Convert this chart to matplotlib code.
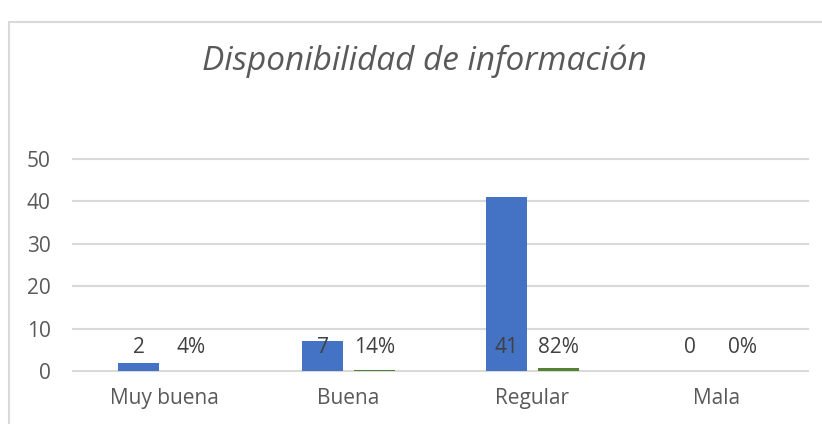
import matplotlib.pyplot as plt
import matplotlib.patches as mpatches
import numpy as np

# datos del grafico
categorias = ["Muy buena", "Buena", "Regular", "Mala"]
frecuencia = [2, 7, 41, 0]
porcentaje = [0.04, 0.14, 0.82, 0.0]
etiquetas_pct = ["4%", "14%", "82%", "0%"]
yticks = [0, 10, 20, 30, 40, 50]

azul = "#4472C4"
verde = "#548235"
gris_texto = "#595959"
gris_linea = "#D9D9D9"

plt.rcParams['font.family'] = ['Open Sans', 'DejaVu Sans']

fig = plt.figure(figsize=(8.22, 4.24), dpi=100)

# marco del grafico (estilo Excel)
marco = mpatches.Rectangle((9 / 822, -0.1), 1.0, 1.1 - 22 / 424,
                           transform=fig.transFigure, fill=False,
                           edgecolor="#D9D9D9", linewidth=1.5)
fig.patches.append(marco)

ax = fig.add_axes([73 / 822, 53 / 424, 735 / 822, 212 / 424])

x = np.arange(len(categorias))
ancho = 0.223
desp = 0.141

ax.bar(x - desp, frecuencia, width=ancho, color=azul, zorder=3)
ax.bar(x + desp, porcentaje, width=ancho, color=verde, zorder=3)

# etiquetas de datos (todas a la misma altura como en el original)
y_etiqueta = 5.6
for i in range(len(categorias)):
    ax.text(x[i] - desp, y_etiqueta, str(frecuencia[i]), ha="center", va="center",
            fontsize=15, color="#404040", zorder=4)
    ax.text(x[i] + desp, y_etiqueta, etiquetas_pct[i], ha="center", va="center",
            fontsize=15, color="#404040", zorder=4)

ax.set_xlim(-0.5, len(categorias) - 0.5)
ax.set_ylim(0, 50)
ax.set_yticks(yticks)
for v in yticks:
    ax.axhline(v, color=gris_linea, linewidth=1.5, zorder=1, clip_on=False)

ax.set_xticks(x)
ax.set_xticklabels(categorias)
ax.tick_params(axis="both", length=0, labelsize=15, labelcolor=gris_texto)
ax.tick_params(axis="y", pad=16)
ax.tick_params(axis="x", pad=12)
for s in ax.spines.values():
    s.set_visible(False)

fig.text(424 / 822, 1 - 70 / 424, "Disponibilidad de información", ha="center", va="baseline",
         fontsize=24, style="italic", color=gris_texto)

plt.savefig("out.png", dpi=100)
